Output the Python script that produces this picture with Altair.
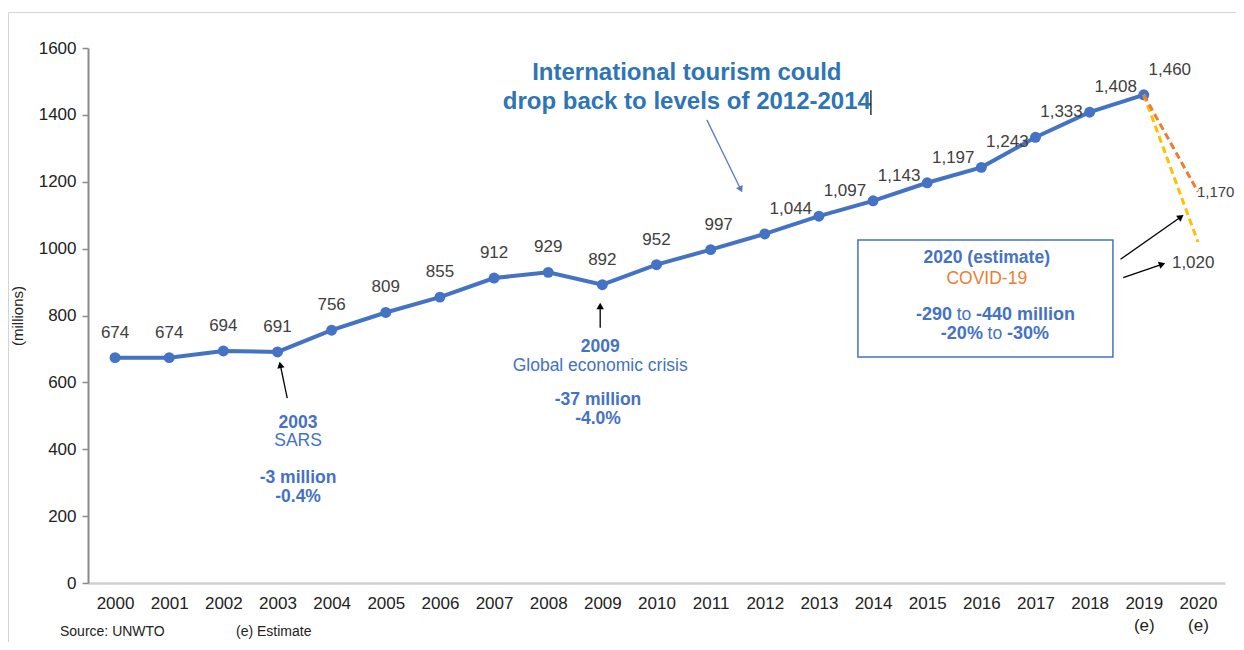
import math
import altair as alt
import pandas as pd

FONT = "Liberation Sans"
BLUE = "#4472C4"
TITLE_BLUE = "#2E75B6"
ORANGE = "#ED7D31"
YELLOW = "#FFC000"
GRAY_TXT = "#404040"

# ---- data ----
years = list(range(2000, 2020))
arrivals = [674, 674, 694, 691, 756, 809, 855, 912, 929, 892,
            952, 997, 1044, 1097, 1143, 1197, 1243, 1333, 1408, 1460]
est_years = [2019, 2020]
est_high = [1460, 1170]   # -20%
est_low = [1460, 1020]    # -30%
axis_years = list(range(2000, 2021))
y_ticks = list(range(0, 1601, 200))

W, H = 1137, 535
X_DOMAIN = [1999.5, 2020.5]
Y_DOMAIN = [0, 1600]
PX_X = W / (X_DOMAIN[1] - X_DOMAIN[0])
PX_Y = H / (Y_DOMAIN[1] - Y_DOMAIN[0])

xscale = alt.Scale(domain=X_DOMAIN, nice=False, zero=False)
yscale = alt.Scale(domain=Y_DOMAIN, nice=False)
xaxis = alt.Axis(values=axis_years, format="d", title=None, grid=False, ticks=False,
                 domainColor="#d0d0d0", domainWidth=2.5, labelFontSize=17,
                 labelColor="#222222", labelFont=FONT, labelPadding=12,
                 labelLineHeight=22, labelFlush=False,
                 labelExpr="datum.value >= 2019 ? [datum.label, '(e)'] : datum.label")
yaxis = alt.Axis(values=y_ticks, format="d", title="(millions)", grid=False,
                 domainColor="#8a8a8a", domainWidth=2, tickColor="#8a8a8a",
                 tickSize=6, tickWidth=1.5, labelFontSize=17, labelColor="#222222",
                 labelFont=FONT, labelPadding=6, titleFont=FONT, titleFontSize=15,
                 titleFontWeight="normal", titleColor="#222222", titleX=-71,
                 titleY=H / 2, titleAngle=270,
                 titleAlign="center", titleBaseline="middle")


def X(field="year"):
    return alt.X(f"{field}:Q", scale=xscale, axis=xaxis)


def Y(field="value"):
    return alt.Y(f"{field}:Q", scale=yscale, axis=yaxis)


df = pd.DataFrame({"year": years, "value": arrivals})
base = alt.Chart(df)

line = base.mark_line(color=BLUE, strokeWidth=4).encode(x=X(), y=Y())
pts = base.mark_circle(color=BLUE, size=120, opacity=1).encode(x=X(), y=Y())


def value_labels(cond, dx):
    return base.transform_filter(cond).mark_text(
        dx=dx, dy=-25, fontSize=17, font=FONT, color=GRAY_TXT
    ).encode(x=X(), y=Y(), text=alt.Text("value:Q", format=","))


lab1 = value_labels(alt.datum.year <= 2010, 0)
lab2 = value_labels(alt.datum.year == 2011, 8)
lab3 = value_labels(alt.datum.year >= 2012, 26)

df_high = pd.DataFrame({"year": est_years, "value": est_high})
df_low = pd.DataFrame({"year": est_years, "value": est_low})
dash_low = alt.Chart(df_low).mark_line(color=YELLOW, strokeWidth=3, strokeDash=[7, 4]).encode(x=X(), y=Y())
dash_high = alt.Chart(df_high).mark_line(color=ORANGE, strokeWidth=3, strokeDash=[7, 4]).encode(x=X(), y=Y())
lab_high = alt.Chart(df_high.iloc[[1]]).mark_text(
    dx=-1, align="left", baseline="middle", fontSize=15, font=FONT, color=GRAY_TXT
).encode(x=X(), y=Y(), text=alt.Text("value:Q", format=","))
lab_low = alt.Chart(df_low.iloc[[1]]).mark_text(
    dx=-26, dy=21, align="left", baseline="middle", fontSize=17, font=FONT, color=GRAY_TXT
).encode(x=X(), y=Y(), text=alt.Text("value:Q", format=","))


# ---- annotations ----
def texts(rows, **kw):
    d = pd.DataFrame(rows, columns=["year", "value", "label"])
    return alt.Chart(d).mark_text(font=FONT, baseline="middle", **kw).encode(
        x=X(), y=Y(), text="label:N")


title_txt = texts([(2010.56, 1525, "International tourism could"),
                   (2010.56, 1438, "drop back to levels of 2012-2014")],
                  fontSize=24, fontWeight="bold", color=TITLE_BLUE)
bold_blue = texts([(2003.38, 480, "2003"), (2003.38, 314, "-3 million"),
                   (2003.38, 257, "-0.4%"), (2008.96, 707, "2009"),
                   (2008.92, 547, "-37 million"), (2008.92, 490, "-4.0%"),
                   (2016.1, 972, "2020 (estimate)")],
                  fontSize=17.5, fontWeight="bold", color=BLUE)
reg_blue = texts([(2003.38, 424, "SARS"), (2008.96, 648, "Global economic crisis")],
                 fontSize=17.5, color=BLUE)
covid = texts([(2016.1, 909, "COVID-19")], fontSize=17.5, color=ORANGE)
to_words = texts([(2015.68, 801, "to"), (2016.25, 744, "to")], fontSize=17.5, color=BLUE)
bold_left = texts([(2015.68, 801, "-290"), (2016.25, 744, "-20%")],
                  fontSize=18, fontWeight="bold", color=BLUE, align="right", dx=-12)
bold_right = texts([(2015.68, 801, "-440 million"), (2016.25, 744, "-30%")],
                   fontSize=18, fontWeight="bold", color=BLUE, align="left", dx=12)

# box
df_box = pd.DataFrame({"year": [2013.72], "year2": [2018.43], "value": [1026], "value2": [676]})
box = alt.Chart(df_box).mark_rect(fill="white", stroke=BLUE, strokeWidth=1.5).encode(
    x=X(), x2="year2", y=Y(), y2="value2")

# arrows (tail -> tip)
arrows = [
    (2010.93, 1385, 2011.58, 1169, "#5B7BC0"),
    (2003.18, 553, 2003.04, 661, "black"),
    (2008.96, 763, 2008.96, 837, "black"),
    (2018.57, 968, 2019.73, 1100, "black"),
    (2018.62, 913, 2019.39, 956, "black"),
]
arrow_layers = []
for x0, y0, x1, y1, col in arrows:
    dxp = (x1 - x0) * PX_X
    dyp = -(y1 - y0) * PX_Y
    ang = math.degrees(math.atan2(dxp, -dyp)) % 360
    ln = math.hypot(dxp, dyp)
    back = 4.0
    hx = x1 - (dxp / ln) * back / PX_X
    hy = y1 + (dyp / ln) * back / PX_Y
    d = pd.DataFrame({"year": [x0], "value": [y0], "year2": [hx], "value2": [hy]})
    arrow_layers.append(alt.Chart(d).mark_rule(color=col, strokeWidth=1.3).encode(
        x=X(), y=Y(), x2="year2", y2="value2"))
    h = pd.DataFrame({"year": [hx], "value": [hy]})
    arrow_layers.append(alt.Chart(h).mark_point(
        shape="triangle", filled=True, color=col, size=55, angle=ang, opacity=1
    ).encode(x=X(), y=Y()))

# text cursor after title
df_cur = pd.DataFrame({"year": [2013.96], "value": [1474], "value2": [1400]})
cursor = alt.Chart(df_cur).mark_rule(color="black", strokeWidth=1.2).encode(
    x=X(), y=Y(), y2="value2")

# frame and source
frame = alt.Chart(pd.DataFrame({"a": [0]})).mark_rect(
    fill=None, stroke="#d4d4d4", strokeWidth=1).encode(
    x=alt.value(-79.5), x2=alt.value(W + 40), y=alt.value(-35.5), y2=alt.value(H + 120))
src = alt.Chart(pd.DataFrame({"t": ["Source: UNWTO", "(e) Estimate"], "px": [-28, 148]})).mark_text(
    font=FONT, fontSize=14, color="#222222", align="left", baseline="top").encode(
    x=alt.X("px:Q", scale=None), y=alt.value(H + 42), text="t:N")

chart = alt.layer(
    frame, line, pts, lab1, lab2, lab3, dash_low, dash_high, lab_high, lab_low,
    box, title_txt, bold_blue, reg_blue, covid, to_words, bold_left, bold_right,
    cursor, *arrow_layers, src
).properties(
    width=W, height=H, autosize=alt.AutoSizeParams(type="none"),
    padding={"left": 80, "top": 40, "right": 11, "bottom": 59},
    background="white"
).configure_view(stroke=None)

chart.save("out.html", embed_options={"renderer": "svg", "actions": False})
